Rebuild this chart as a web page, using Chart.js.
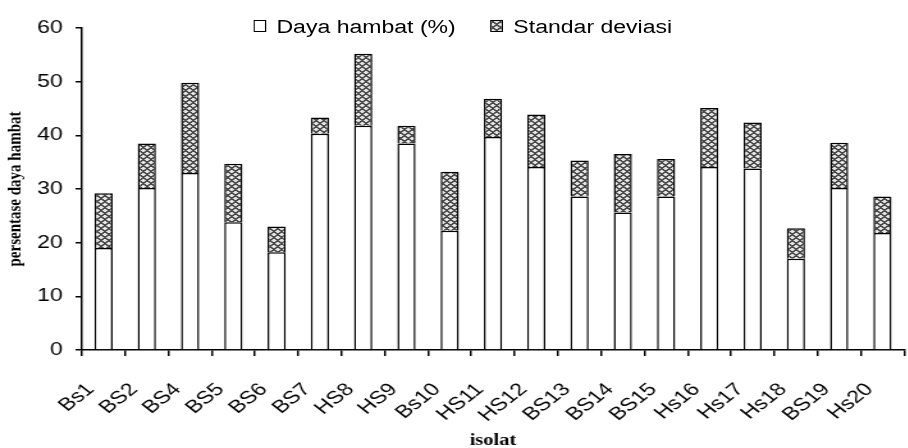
<!DOCTYPE html>
<html>
<head>
<meta charset="utf-8">
<script src="https://cdn.jsdelivr.net/npm/chart.js@4.4.1/dist/chart.umd.min.js"></script>
<style>
  html, body { margin: 0; padding: 0; background: #fff; overflow: hidden; }
  /* the original figure is stretched horizontally, so draw narrow and scale */
  #wrap { position: relative; width: 728px; height: 448px; transform: scaleX(1.28); transform-origin: 0 0; }
  #legend { position: absolute; top: 17px; left: 198px; font: 18px "Liberation Sans", Arial, sans-serif; white-space: nowrap; }
  #legend span.item { display: inline-block; margin-right: 27px; }
  #legend i { display: inline-block; width: 8px; height: 10px; border: 1px solid #000; margin-right: 8px; vertical-align: 1px; }
</style>
</head>
<body>
<div id="wrap">
  <canvas id="chart"></canvas>
  <div id="legend">
    <span class="item"><i style="background:#fff"></i>Daya hambat (%)</span><span class="item"><i id="sdBox"></i>Standar deviasi</span>
  </div>
</div>
<script>
// isolates and their values
const isolat = ["Bs1", "BS2", "BS4", "BS5", "BS6", "BS7", "HS8", "HS9", "Bs10", "HS11",
                "HS12", "BS13", "BS14", "BS15", "Hs16", "Hs17", "Hs18", "BS19", "Hs20"];
const dayaHambat = [19.0, 30.2, 33.0, 23.8, 18.2, 40.3, 41.8, 38.5, 22.2, 39.7,
                    34.1, 28.6, 25.6, 28.6, 34.1, 33.8, 17.0, 30.2, 21.8];
const standarDeviasi = [10.2, 8.3, 16.8, 10.9, 4.8, 3.0, 13.4, 3.3, 11.0, 7.1,
                        9.8, 6.7, 10.9, 7.0, 11.0, 8.6, 5.7, 8.4, 6.8];
const yTicks = [0, 10, 20, 30, 40, 50, 60];

// crosshatch fill for the deviation part
function hatch() {
    const c = document.createElement("canvas");
    c.width = 6; c.height = 6;
    const g = c.getContext("2d");
    g.fillStyle = "#e4e4e4";
    g.fillRect(0, 0, 6, 6);
    g.fillStyle = "#4a4a4a";
    for (let x = 0; x < 6; x++) {
        for (let y = 0; y < 6; y++) {
            const a = (x + y) % 6, b = (x - y + 6) % 6;
            if (a < 2 || b < 2) g.fillRect(x, y, 1, 1);
        }
    }
    return c;
}
const tile = hatch();
document.getElementById("sdBox").style.background = "url(" + tile.toDataURL() + ")";

const ctx = document.getElementById("chart").getContext("2d");
Chart.defaults.font.family = "'Liberation Sans', Arial, sans-serif";
Chart.defaults.color = "#000";

new Chart(ctx, {
    type: "bar",
    data: {
        labels: isolat,
        datasets: [
            {
                label: "Daya hambat (%)",
                data: dayaHambat,
                backgroundColor: "#fff",
                borderColor: "#000",
                borderWidth: 1.5,
            },
            {
                label: "Standar deviasi",
                data: standarDeviasi,
                backgroundColor: ctx.createPattern(tile, "repeat"),
                borderColor: "#000",
                borderWidth: 1.5,
            },
        ],
    },
    options: {
        responsive: true,
        maintainAspectRatio: false,
        animation: false,
        layout: { padding: { top: 28, right: 13, left: 0, bottom: 0 } },
        datasets: { bar: { categoryPercentage: 1, barPercentage: 0.42 } },
        plugins: { legend: { display: false }, tooltip: { enabled: false } },
        scales: {
            x: {
                stacked: true,
                grid: { drawOnChartArea: false, drawTicks: true, tickLength: 6, color: "#000", lineWidth: 1.5, offset: true },
                border: { color: "#000", width: 1.5 },
                ticks: { font: { size: 18 }, minRotation: 45, maxRotation: 45, autoSkip: false, padding: 23, labelOffset: -10 },
                title: { display: true, text: "isolat", font: { family: "'Liberation Serif', serif", size: 16, weight: "bold" }, padding: { top: 0, bottom: -2 } },
                afterFit: (s) => { s.height = 98; },
            },
            y: {
                stacked: true,
                min: 0,
                max: 60,
                afterBuildTicks: (s) => { s.ticks = yTicks.map((v) => ({ value: v })); },
                grid: { drawOnChartArea: false, drawTicks: true, tickLength: 5, color: "#000", lineWidth: 1.5 },
                border: { color: "#000", width: 1.5 },
                ticks: { font: { size: 18 }, padding: 10 },
                title: { display: true, text: "persentase daya hambat", font: { family: "'Liberation Serif', serif", size: 15, weight: "bold" }, padding: { top: 3, bottom: 0 } },
                afterFit: (s) => { s.width = 64; },
            },
        },
    },
});
</script>
</body>
</html>
